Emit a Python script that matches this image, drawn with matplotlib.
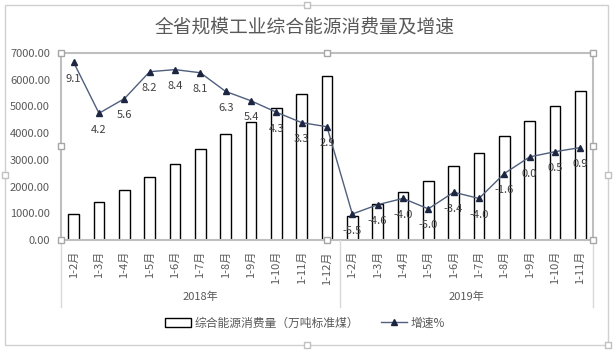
import matplotlib
matplotlib.use("Agg")
import matplotlib.pyplot as plt
from matplotlib.patches import Rectangle
from matplotlib.lines import Line2D

plt.rcParams['font.family'] = ['Noto Sans CJK SC', 'DejaVu Sans']

months = ['1-2月', '1-3月', '1-4月', '1-5月', '1-6月', '1-7月', '1-8月',
          '1-9月', '1-10月', '1-11月', '1-12月',
          '1-2月', '1-3月', '1-4月', '1-5月', '1-6月', '1-7月', '1-8月',
          '1-9月', '1-10月', '1-11月']
years = ['2018年', '2019年']
year_counts = [11, 10]
energy = [975, 1437, 1875, 2362, 2850, 3412, 3950, 4425, 4925, 5470, 6140,
          900, 1353, 1800, 2218, 2755, 3270, 3880, 4470, 5000, 5560]
growth = [9.1, 4.2, 5.6, 8.2, 8.4, 8.1, 6.3, 5.4, 4.3, 3.3, 2.9,
          -5.5, -4.6, -4.0, -5.0, -3.4, -4.0, -1.6, 0.0, 0.5, 0.9]

txt = '#595959'
W, H = 614, 351
fig = plt.figure(figsize=(W / 100, H / 100), dpi=100)

# plot area in pixels
L, R, T, B = 61, 593, 53, 240
ax = fig.add_axes([L / W, 1 - B / H, (R - L) / W, (B - T) / H])
x = list(range(len(months)))
ax.bar(x, energy, width=0.41, color='white', edgecolor='black', linewidth=1.0, zorder=2)
ax.set_xlim(-0.5, len(months) - 0.5)
ax.set_ylim(0, 7000)
ax.set_yticks(range(0, 7001, 1000))
ax.set_yticklabels(['%.2f' % v for v in range(0, 7001, 1000)], fontsize=8, color=txt)
ax.set_xticks(x)
ax.set_xticklabels(months, rotation=90, fontsize=8, color=txt, va='top')
ax.tick_params(axis='both', length=0)
ax.tick_params(axis='x', pad=8)
ax.tick_params(axis='y', pad=8)
for s in ax.spines.values():
    s.set_color('#bfbfbf')
    s.set_linewidth(1.5)

ax2 = ax.twinx()
ax2.set_ylim(-8, 10)
ax2.set_yticks([])
for s in ax2.spines.values():
    s.set_visible(False)
ax2.plot(x, growth, color='#4f5f7d', linewidth=1.0, marker='^', markersize=5,
         markerfacecolor='#1c2541', markeredgecolor='#1c2541', zorder=3)
for xi, g in zip(x, growth):
    ax2.annotate('%.1f' % g, (xi, g), xytext=(0, -12), textcoords='offset points',
                 ha='center', va='center', fontsize=8, color='#404040')

# group separators and year labels below the axis
def px(xp, yp):
    return xp / W, 1 - yp / H

step = (R - L) / len(months)
edges = [L]
for c in year_counts:
    edges.append(edges[-1] + c * step)
for e in edges:
    fig.add_artist(Line2D([e / W, e / W], [1 - B / H, 1 - 307 / H], color='#d9d9d9', linewidth=1))
for i, yr in enumerate(years):
    cx = (edges[i] + edges[i + 1]) / 2
    fig.text(cx / W, 1 - 297 / H, yr, ha='center', va='center', fontsize=8, color=txt)

fig.text(305 / W, 1 - 27 / H, '全省规模工业综合能源消费量及增速', ha='center', va='center',
         fontsize=13.5, color=txt)

handles = [Rectangle((0, 0), 1, 1, facecolor='white', edgecolor='black', linewidth=1),
           Line2D([], [], color='#4f5f7d', linewidth=1, marker='^', markersize=5,
                  markerfacecolor='#1c2541', markeredgecolor='#1c2541')]
fig.legend(handles, ['综合能源消费量（万吨标准煤）', '增速%'], loc='center',
           bbox_to_anchor=(305 / W, 1 - 323 / H), ncol=2, frameon=False, fontsize=8.5,
           labelcolor=txt, handlelength=2.2, handletextpad=0.3, columnspacing=1.8)

# outer chart border
fig.add_artist(Rectangle(px(5, 345), 603 / W, 340 / H, fill=False, edgecolor='#d0d0d0', linewidth=1))

# selection handles
for hx, hy in [(L, T), ((L + R) / 2, T), (R, T), (L, (T + B) / 2), (R, (T + B) / 2),
               (L, B), ((L + R) / 2, B), (R, B)]:
    fig.add_artist(Line2D([hx / W], [1 - hy / H], marker='s', markersize=4,
                          markerfacecolor='white', markeredgecolor='#a6a6a6', linestyle='none'))
for hx, hy in [(307, 5), (307, 345), (5, 175), (608, 175), (608, 345)]:
    fig.add_artist(Line2D([hx / W], [1 - hy / H], marker='s', markersize=4,
                          markerfacecolor='white', markeredgecolor='#c0c0c0', linestyle='none'))

fig.savefig('out.png', dpi=100)
